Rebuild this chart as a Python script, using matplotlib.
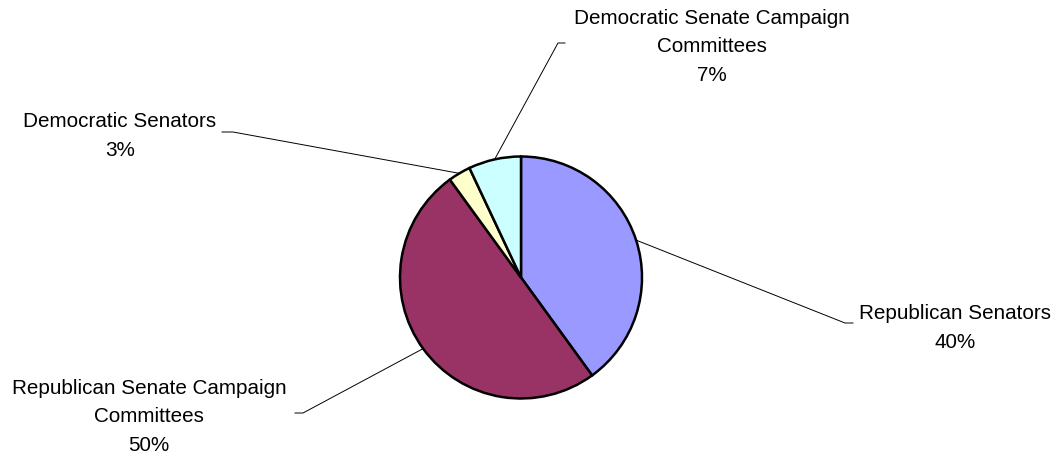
import numpy as np
import matplotlib
matplotlib.use("Agg")
import matplotlib.pyplot as plt

plt.rcParams['font.family'] = ['Liberation Sans', 'DejaVu Sans']

labels = ["Republican Senators", "Republican Senate Campaign\nCommittees",
          "Democratic Senators", "Democratic Senate Campaign\nCommittees"]
shares = [40, 50, 3, 7]
colors = ["#9999FF", "#993366", "#FFFFCC", "#CCFFFF"]

# label layout in pixel coords (x, y from top): text centre, elbow, end of leader
label_pos = [(955, 328), (149, 417), (120, 136), (712, 47)]
elbows = [(845, 323), (303, 413), (233, 132), (558, 43)]
ends = [(853, 323), (295, 413), (222, 132), (565, 43)]

W, H = 1062, 457
fig = plt.figure(figsize=(W / 100, H / 100), dpi=100)
ax = fig.add_axes([0, 0, 1, 1])
ax.set_xlim(0, W)
ax.set_ylim(0, H)
ax.set_aspect('equal')
ax.axis('off')

cx, cy, r = 521, H - 277.5, 121
wedges, _ = ax.pie(shares, colors=colors, startangle=90, counterclock=False,
                   center=(cx, cy), radius=r,
                   wedgeprops=dict(edgecolor='black', linewidth=1.8))
ax.set_xlim(0, W)
ax.set_ylim(0, H)

total = sum(shares)
for w, lab, val, tp, el, en in zip(wedges, labels, shares, label_pos, elbows, ends):
    mid = np.deg2rad((w.theta1 + w.theta2) / 2)
    px, py = cx + r * np.cos(mid), cy + r * np.sin(mid)
    ax.plot([px, el[0], en[0]], [py, H - el[1], H - en[1]], color='black', lw=0.7)
    ax.text(tp[0], H - tp[1], f"{lab}\n{round(val / total * 100)}%", ha='center', va='center',
            fontsize=14.9, linespacing=1.66, color='black')

fig.savefig("out.png", dpi=100)
